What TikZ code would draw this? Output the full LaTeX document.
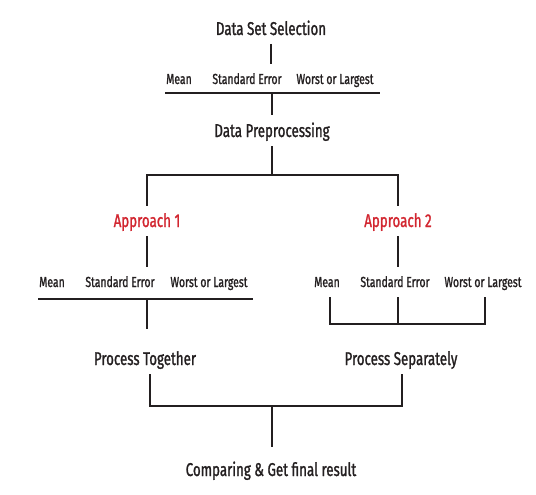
\documentclass[tikz,border=0pt]{standalone}
\usepackage{fontspec}
\setmainfont[FakeStretch=0.72, FakeBold=1.3]{Fira Sans}
\usetikzlibrary{positioning}
\definecolor{cred}{HTML}{D22630}
\definecolor{cink}{HTML}{231F20}
\tikzset{
  title/.style={font=\fontsize{18.5}{20}\selectfont, text=cink, inner sep=0pt, text height=12.5pt, text depth=0pt, outer ysep=9pt},
  appr/.style={title, text=cred},
  lbl/.style={font=\fontsize{14.5}{16}\selectfont, text=cink, inner sep=0pt, text height=10pt, text depth=0pt, outer ysep=10pt},
  wire/.style={draw=cink, line width=1.1pt},
}
\begin{document}
\begin{tikzpicture}[x=1pt,y=-1pt]
\useasboundingbox (0,0) rectangle (536,495);
% top part
\node[title] (sel) at (271,28.75) {Data Set Selection};
\node[lbl] (me1) at (179,79) {Mean};
\node[lbl] (se1) at (247,79) {Standard Error};
\node[lbl] (wo1) at (335,79) {Worst or Largest};
\node[title] (prep) at (272,130.75) {Data Preprocessing};
\coordinate (b1l) at (165,93);
\coordinate (b1r) at (380,93);
\draw[wire] (sel.south) -- (sel.south |- se1.north);
\draw[wire] (b1l) -- (b1r);
\draw[wire] (prep.north |- b1l) -- (prep.north);
% the two approaches
\node[appr] (app1) at (147,220.75) {Approach 1};
\node[appr] (app2) at (398,220.75) {Approach 2};
\coordinate (fork) at (272,175);
\draw[wire] (prep.south) -- (fork);
\draw[wire] (app1.north) |- (fork) -| (app2.north);
% approach 1
\node[lbl] (me2) at (52,282) {Mean};
\node[lbl] (se2) at (120,282) {Standard Error};
\node[lbl] (wo2) at (209,282) {Worst or Largest};
\node[title] (tog) at (145,358.75) {Process Together};
\coordinate (b2l) at (38,299);
\coordinate (b2r) at (253,299);
\draw[wire] (app1.south) -- (app1.south |- se2.north);
\draw[wire] (b2l) -- (b2r);
\draw[wire, shorten >=15pt] (app1.south |- b2l) -- (app1.south |- tog.north);
% approach 2
\node[lbl] (me3) at (327,282) {Mean};
\node[lbl] (se3) at (395,282) {Standard Error};
\node[lbl] (wo3) at (483,282) {Worst or Largest};
\node[title] (sep) at (401,358.75) {Process Separately};
\coordinate (b3l) at (330,324);
\coordinate (b3r) at (485,324);
\draw[wire] (app2.south) -- (app2.south |- se3.north);
\draw[wire] (b3l |- me3.south) -- (b3l) -- (b3r) -- (b3r |- wo3.south);
\draw[wire] (app2 |- se3.south) -- (app2 |- b3l);
% result
\node[title] (cmp) at (271,469.75) {Comparing \& Get final result};
\coordinate (join) at (272,406);
\draw[wire] ([xshift=5pt]tog.south) |- (join) -| ([xshift=1pt]sep.south);
\draw[wire, shorten >=8pt] (join) -- (join |- cmp.north);
\end{tikzpicture}
\end{document}
